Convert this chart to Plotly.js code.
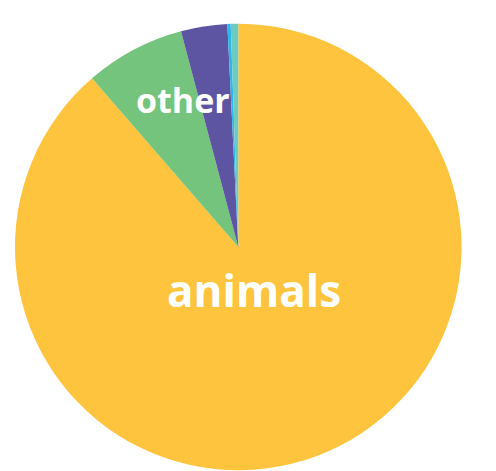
<!DOCTYPE html>
<html>
<head>
<meta charset="utf-8">
<script src="https://cdn.plot.ly/plotly-3.0.1.min.js"></script>
<style>html,body{margin:0;padding:0;background:#fff;}#chart{width:496px;height:471px;}</style>
</head>
<body>
<div id="chart"></div>
<script>
const labels = ["animals", "other", "plants", "fungi", "protists"];
const values = [88.62, 7.24, 3.35, 0.24, 0.54];
const colors = ["#FFC43D", "#74C47D", "#5E55A2", "#2DB6E8", "#6ECBC2"];
const shownLabels = ["animals", "other"];

const trace = {
  type: "pie",
  labels: labels,
  values: values,
  sort: false,
  direction: "clockwise",
  rotation: 0,
  textinfo: "none",
  marker: {colors: colors, line: {width: 0}},
  domain: {x: [0.0302, 0.9306], y: [0.0015, 0.9497]},
  showlegend: false
};

const annPos = {animals: [0.512, 0.384, 44], other: [0.3696, 0.788, 34]};
const annotations = shownLabels.map(l => ({
  text: l, xref: "paper", yref: "paper",
  x: annPos[l][0], y: annPos[l][1], xanchor: "center", yanchor: "middle",
  showarrow: false,
  font: {family: "Open Sans", size: annPos[l][2], color: "#ffffff", weight: 700}
}));

Plotly.newPlot("chart", [trace], {
  width: 496, height: 471,
  margin: {l: 0, r: 0, t: 0, b: 0},
  paper_bgcolor: "#ffffff",
  annotations: annotations
}, {displayModeBar: false, staticPlot: true});
</script>
</body>
</html>
